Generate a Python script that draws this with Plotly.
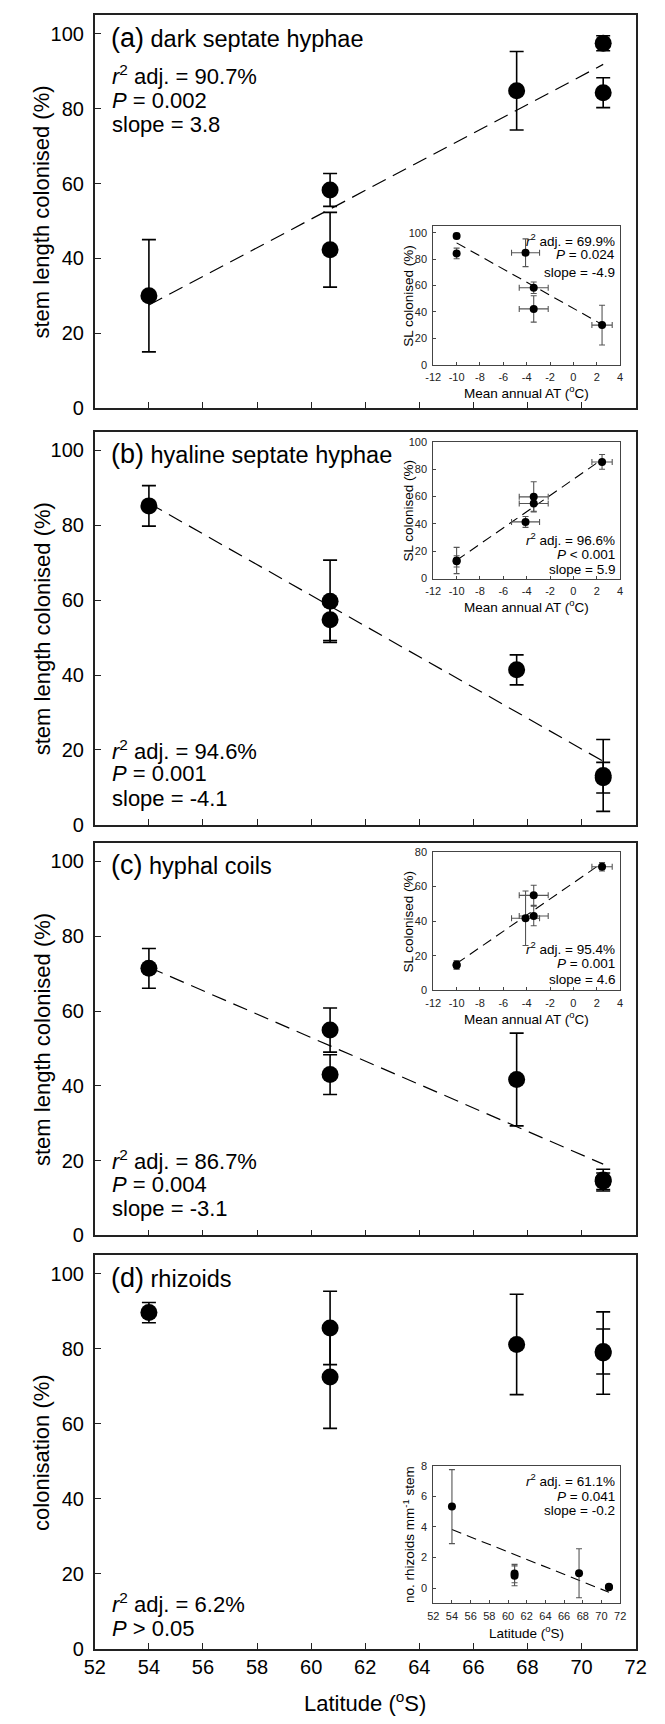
import numpy as np
import plotly.graph_objects as go

# ---------------- data ----------------
latitude = [54.0, 60.7, 60.7, 67.6, 70.8, 70.8]          # deg S
mean_air_temp = [2.45, -3.4, -3.4, -4.1, -10.0, -10.0]   # deg C
mean_air_temp_err = [0.87, 1.24, 1.24, 1.2, 0.0, 0.0]

dark_septate = [30.0, 58.3, 42.3, 84.8, 97.5, 84.3]
dark_septate_err = [15.0, 4.4, 10.0, 10.5, 2.0, 4.0]

hyaline_septate = [85.2, 59.7, 54.8, 41.4, 13.2, 12.6]
hyaline_septate_err = [5.4, 11.0, 5.6, 4.0, 9.6, 4.1]

hyphal_coils = [71.4, 54.9, 43.0, 41.7, 14.8, 14.5]
hyphal_coils_err = [5.3, 5.9, 5.3, 12.4, 2.9, 2.2]
hyphal_coils_err_inset = [2.4, 5.8, 5.6, 15.7, 2.5, 2.0]

rhizoid_colonisation = [89.7, 85.6, 72.5, 81.2, 79.3, 78.9]
rhizoid_colonisation_err = [2.7, 9.8, 13.7, 13.4, 6.0, 11.0]

rhizoid_density = [5.33, 0.95, 0.80, 0.97, 0.06, 0.08]
rhizoid_density_err = [2.42, 0.60, 0.65, 1.60, 0.10, 0.10]

panel_titles = ["(a)", "(b)", "(c)", "(d)"]
panel_names = ["dark septate hyphae", "hyaline septate hyphae", "hyphal coils", "rhizoids"]
main_stats = [["90.7%", "0.002", "3.8"], ["94.6%", "0.001", "-4.1"],
              ["86.7%", "0.004", "-3.1"], ["6.2%", "> 0.05", None]]
inset_stats = [["69.9%", "= 0.024", "-4.9"], ["96.6%", "< 0.001", "5.9"],
               ["95.4%", "= 0.001", "4.6"], ["61.1%", "= 0.041", "-0.2"]]
lat_ticks = list(range(52, 73, 2))
temp_ticks = list(range(-12, 5, 2))
temp_tick_text = [str(t) for t in temp_ticks]

# ---------------- geometry ----------------
W, H = 665, 1724
FONT = "Arial, Liberation Sans, Helvetica, sans-serif"


def px(v):
    return v / W


def py(v):
    return 1 - v / H


main_x = [86.7, 646.0]
main_frames = [(9.3, 406.0), (430.0, 827.0), (845.0, 1241.7), (1261.7, 1659.0)]
inset_x = [436.7, 630.0]
inset_frames = [(222.3, 362.3), (440.0, 578.3), (854.3, 994.3), (1474.3, 1613.3)]
inset_yranges = [[0, 105], [0, 100], [0, 80], [-1, 8]]
inset_yticks = [list(range(0, 101, 20)), list(range(0, 101, 20)),
                list(range(0, 81, 20)), list(range(0, 9, 2))]

fig = go.Figure()

main_series = [(dark_septate, dark_septate_err), (hyaline_septate, hyaline_septate_err),
               (hyphal_coils, hyphal_coils_err), (rhizoid_colonisation, rhizoid_colonisation_err)]
inset_series = [(mean_air_temp, dark_septate, dark_septate_err, True),
                (mean_air_temp, hyaline_septate, hyaline_septate_err, True),
                (mean_air_temp, hyphal_coils, hyphal_coils_err_inset, True),
                (latitude, rhizoid_density, rhizoid_density_err, False)]


def fit_line(x, y):
    x = np.asarray(x)
    y = np.asarray(y)
    b, a = np.polyfit(x, y, 1)
    xs = np.array([x.min(), x.max()])
    return xs, a + b * xs


for i in range(4):
    n = i + 1
    xa = "x" if n == 1 else f"x{n}"
    ya = "y" if n == 1 else f"y{n}"
    y, e = main_series[i]
    if i < 3:
        lx, ly = fit_line(latitude, y)
        fig.add_trace(go.Scatter(x=lx, y=ly, mode="lines", xaxis=xa, yaxis=ya,
                                 line=dict(color="black", width=1.2, dash="15px,8px"),
                                 showlegend=False, hoverinfo="skip"))
    fig.add_trace(go.Scatter(x=latitude, y=y, mode="markers", xaxis=xa, yaxis=ya,
                             marker=dict(color="black", size=17),
                             error_y=dict(type="data", array=e, color="black",
                                          thickness=1.6, width=7),
                             showlegend=False))
    # insets
    m = i + 5
    xi, yi = f"x{m}", f"y{m}"
    ix, iy, ie, has_xerr = inset_series[i]
    lx, ly = fit_line(ix, iy)
    fig.add_trace(go.Scatter(x=lx, y=ly, mode="lines", xaxis=xi, yaxis=yi,
                             line=dict(color="black", width=1.1, dash="10px,6px"),
                             showlegend=False, hoverinfo="skip"))
    tr = dict(x=ix, y=iy, mode="markers", xaxis=xi, yaxis=yi,
              marker=dict(color="black", size=8),
              error_y=dict(type="data", array=ie, color="#555555", thickness=1.1, width=3),
              showlegend=False)
    if has_xerr:
        tr["error_x"] = dict(type="data", array=mean_air_temp_err, color="#555555",
                             thickness=1.1, width=3)
    fig.add_trace(go.Scatter(**tr))

layout = dict(width=W, height=H, margin=dict(l=0, r=0, t=0, b=0),
              paper_bgcolor="white", plot_bgcolor="white",
              font=dict(family=FONT, color="black"), showlegend=False)

annotations = []
for i in range(4):
    n = i + 1
    top, bot = main_frames[i]
    xk = "xaxis" if n == 1 else f"xaxis{n}"
    yk = "yaxis" if n == 1 else f"yaxis{n}"
    layout[xk] = dict(domain=[px(main_x[0]), px(main_x[1])], range=[52, 72],
                      anchor="y" if n == 1 else f"y{n}",
                      tickvals=lat_ticks, ticks="inside", ticklen=6, tickwidth=1.3,
                      tickcolor="#222", showline=True, linecolor="#222", linewidth=1.7,
                      mirror=True, showgrid=False, zeroline=False,
                      showticklabels=(i == 3), tickfont=dict(size=20, family=FONT))
    layout[yk] = dict(domain=[py(bot), py(top)], range=[0, 105],
                      anchor="x" if n == 1 else f"x{n}",
                      tickvals=list(range(0, 101, 20)), ticks="inside", ticklen=6,
                      tickwidth=1.3, tickcolor="#222", showline=True, linecolor="#222",
                      linewidth=1.7, mirror=True, showgrid=False, zeroline=False,
                      tickfont=dict(size=20, family=FONT), ticklabelstandoff=5)
    # y title
    annotations.append(dict(text="colonisation (%)" if i == 3 else "stem length colonised (%)",
                            xref="paper", yref="paper", x=px(32), y=py((top + bot) / 2),
                            textangle=-90, showarrow=False, font=dict(size=22, family=FONT),
                            xanchor="center", yanchor="middle"))
    # panel title
    xd = "x domain" if n == 1 else f"x{n} domain"
    yd = "y domain" if n == 1 else f"y{n} domain"
    annotations.append(dict(text=f"<span style='font-size:27px'>{panel_titles[i]}</span>"
                                 f"<span style='font-size:23.5px'> {panel_names[i]}</span>",
                            xref=xd, yref=yd, x=0.026, y=99 / 105, xanchor="left",
                            yanchor="middle", showarrow=False, font=dict(family=FONT)))
    r2, p, s = main_stats[i]
    lines = [f"<i>r</i><sup>2</sup> adj. = {r2}",
             f"<i>P</i> = {p}" if not p.startswith(">") else f"<i>P</i> {p}"]
    if s is not None:
        lines.append(f"slope = {s}")
    if i == 0:
        ys = [88.9, 82.3, 75.8]
    elif i == 3:
        ys = [12.2, 5.5]
    else:
        ys = [20.1, 13.7, 7.1]
    for t, yv in zip(lines, ys):
        annotations.append(dict(text=t, xref=xd, yref=yd, x=0.028, y=yv / 105,
                                xanchor="left", yanchor="middle", showarrow=False,
                                font=dict(size=22, family=FONT)))

    # inset axes
    m = i + 5
    itop, ibot = inset_frames[i]
    yr = inset_yranges[i]
    layout[f"xaxis{m}"] = dict(domain=[px(inset_x[0]), px(inset_x[1])],
                               range=[52, 72] if i == 3 else [-12, 4],
                               tickvals=lat_ticks if i == 3 else temp_ticks,
                               ticktext=[str(t) for t in lat_ticks] if i == 3 else temp_tick_text,
                               anchor=f"y{m}", ticks="inside", ticklen=3, tickwidth=1,
                               tickcolor="#444", showline=True, linecolor="#444",
                               linewidth=1, mirror=True, showgrid=False, zeroline=False,
                               tickfont=dict(size=11, family=FONT, color="#222"),
                               ticklabelstandoff=2)
    layout[f"yaxis{m}"] = dict(domain=[py(ibot), py(itop)], range=yr,
                               tickvals=inset_yticks[i], anchor=f"x{m}", ticks="inside",
                               ticklen=3, tickwidth=1, tickcolor="#444", showline=True,
                               linecolor="#444", linewidth=1, mirror=True, showgrid=False,
                               zeroline=False,
                               tickfont=dict(size=11, family=FONT, color="#222"),
                               ticklabelstandoff=3)
    annotations.append(dict(text="Latitude (<sup>o</sup>S)" if i == 3 else "Mean annual AT (<sup>o</sup>C)",
                            xref="paper", yref="paper", x=px(sum(inset_x) / 2),
                            y=py(ibot + (29 if i == 3 else 27.5)), xanchor="center",
                            yanchor="middle", showarrow=False,
                            font=dict(size=13.5, family=FONT)))
    annotations.append(dict(text="no. rhizoids mm<sup>-1</sup> stem" if i == 3 else "SL colonised (%)",
                            xref="paper", yref="paper", x=px(411), y=py((itop + ibot) / 2),
                            textangle=-90, xanchor="center", yanchor="middle",
                            showarrow=False, font=dict(size=13.5, family=FONT)))
    ir2, ip, islope = inset_stats[i]
    ilines = [f"<i>r</i><sup>2</sup> adj. = {ir2}", f"<i>P</i> {ip}", f"slope = {islope}"]
    iys = [[94.2, 83.5, 70.2], [28.9, 17.8, 6.5], [24.8, 15.8, 6.3], [7.05, 6.0, 5.05]][i]
    for t, yv in zip(ilines, iys):
        annotations.append(dict(text=t, xref=f"x{m} domain", yref=f"y{m} domain",
                                x=0.983, y=(yv - yr[0]) / (yr[1] - yr[0]),
                                xanchor="right", yanchor="middle", showarrow=False,
                                font=dict(size=13.5, family=FONT)))

annotations.append(dict(text="Latitude (<sup>o</sup>S)", xref="paper", yref="paper",
                        x=px(sum(main_x) / 2), y=py(1713), xanchor="center",
                        yanchor="middle", showarrow=False, font=dict(size=22, family=FONT)))
layout["annotations"] = annotations
fig.update_layout(**layout)
fig.write_html("out.html", config={"displayModeBar": False},
               post_script="document.body.style.margin='0';"
                           "document.documentElement.style.overflow='hidden';")
